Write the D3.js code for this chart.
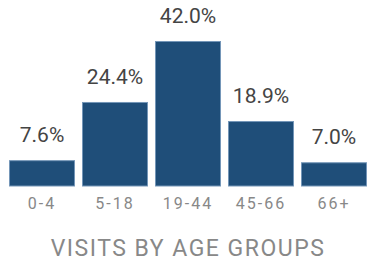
<!DOCTYPE html>
<html>
<head>
<meta charset="utf-8">
<script src="https://cdn.jsdelivr.net/npm/d3@7"></script>
<style>
  html, body { margin: 0; padding: 0; background: #fff; overflow: hidden; }
  svg { display: block; font-family: Roboto, "Noto Sans", sans-serif; }
</style>
</head>
<body>
<div id="chart"></div>
<script>
// age groups and share of visits (%)
const ageGroups = ['0-4', '5-18', '19-44', '45-66', '66+'];
const visitShare = [7.6, 24.4, 42.0, 18.9, 7.0];
const chartTitle = 'VISITS BY AGE GROUPS';

const width = 367, height = 263;
const baseline = 186.5;

const svg = d3.select('#chart')
  .append('svg')
  .attr('width', width)
  .attr('height', height);

const x = d3.scaleBand()
  .domain(ageGroups)
  .range([2, 374])
  .padding(0.096);

const y = d3.scaleLinear()
  .domain([0, 42])
  .range([baseline, 41]);

const data = ageGroups.map((g, i) => ({ group: g, value: visitShare[i] }));

svg.selectAll('.bar')
  .data(data)
  .enter().append('rect')
  .attr('class', 'bar')
  .attr('x', d => x(d.group) + 0.5)
  .attr('y', d => y(d.value) + 0.5)
  .attr('width', x.bandwidth() - 1)
  .attr('height', d => baseline - y(d.value) - 1)
  .attr('fill', '#1f4e79')
  .attr('stroke', '#7496b8')
  .attr('stroke-width', 1);

svg.selectAll('.value')
  .data(data)
  .enter().append('text')
  .attr('class', 'value')
  .attr('x', d => x(d.group) + x.bandwidth() / 2)
  .attr('y', d => y(d.value) - 18)
  .attr('text-anchor', 'middle')
  .attr('font-size', 21)
  .attr('fill', '#444')
  .text(d => d.value.toFixed(1) + '%');

// axis labels only, no line / ticks
const axis = svg.append('g')
  .attr('transform', `translate(0,${baseline})`)
  .call(d3.axisBottom(x).tickSize(0).tickPadding(22));
axis.select('.domain').remove();
axis.selectAll('text')
  .attr('font-family', 'Roboto, sans-serif')
  .attr('font-size', 16)
  .attr('fill', '#888')
  .attr('dy', 0)
  .attr('y', 22)
  .style('letter-spacing', '2px');

svg.append('text')
  .attr('x', 188)
  .attr('y', 256)
  .attr('text-anchor', 'middle')
  .attr('font-size', 23)
  .attr('fill', '#888')
  .style('letter-spacing', '1.5px')
  .text(chartTitle);
</script>
</body>
</html>
